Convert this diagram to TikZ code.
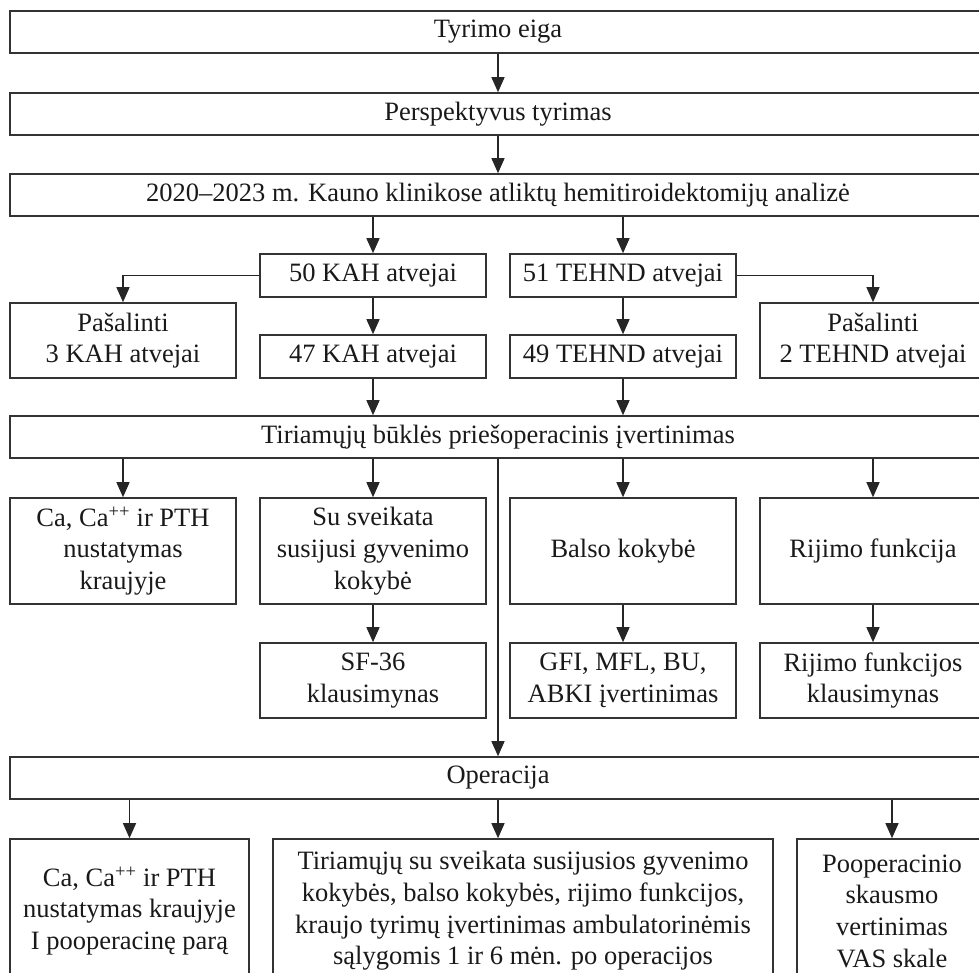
\documentclass[tikz,border=0pt]{standalone}
\usepackage{fontspec}
\setmainfont{Liberation Serif}
\usetikzlibrary{arrows.meta}
\begin{document}
\begin{tikzpicture}[x=1pt,y=-1pt,
  every node/.style={font=\fontsize{26.5}{31.7}\selectfont, text=black!90},
  box/.style={draw=black!80, line width=1.6pt, rectangle, inner sep=0pt, align=center},
  wide/.style={box, minimum width=976pt, minimum height=42pt},
  col/.style={box, minimum width=226pt},
  arr/.style={draw=black!85, line width=1.3pt, -{Triangle[length=15pt,width=13pt]}},
  ln/.style={draw=black!85, line width=1.3pt}]
\useasboundingbox (0,0) rectangle (979,972);
\clip (0,0) rectangle (979,972);
% full-width boxes
\node[wide] (tyr) at (498,32) {Tyrimo eiga};
\node[wide] (per) at (498,114) {Perspektyvus tyrimas};
\node[wide] (ana) at (498,195) {2020–2023 m. Kauno klinikose atliktų hemitiroidektomijų analizė};
% cases
\node[col, minimum height=43pt] (k50) at (373,275.5) {50 KAH atvejai};
\node[col, minimum height=43pt] (t51) at (623,275.5) {51 TEHND atvejai};
\node[col, minimum height=75pt] (p3) at (123,340.5) {Pašalinti\\3 KAH atvejai};
\node[col, minimum height=75pt] (p2) at (873,340.5) {Pašalinti\\2 TEHND atvejai};
\node[col, minimum height=43pt] (k47) at (373,356.5) {47 KAH atvejai};
\node[col, minimum height=43pt] (t49) at (623,356.5) {49 TEHND atvejai};
\node[wide] (tir) at (498,437) {Tiriamųjų būklės priešoperacinis įvertinimas};
% second row
\node[col, minimum height=106pt] (ca1) at (123,551) {Ca, Ca\textsuperscript{++} ir PTH\\nustatymas\\kraujyje};
\node[col, minimum height=106pt] (su) at (373,551) {Su sveikata\\susijusi gyvenimo\\kokybė};
\node[col, minimum height=106pt] (bal) at (623,551) {Balso kokybė};
\node[col, minimum height=106pt] (rij) at (873,551) {Rijimo funkcija};
% third row
\node[col, minimum height=75pt] (sf) at (373,680.5) {SF-36\\klausimynas};
\node[col, minimum height=75pt] (gfi) at (623,680.5) {GFI, MFL, BU,\\ABKI įvertinimas};
\node[col, minimum height=75pt] (rk) at (873,680.5) {Rijimo funkcijos\\klausimynas};
% operation
\node[wide] (op) at (498,778) {Operacija};
% bottom row
\node[box, minimum width=239pt, minimum height=144pt] (ca2) at (129.5,911) {Ca, Ca\textsuperscript{++} ir PTH\\nustatymas kraujyje\\I pooperacinę parą};
\node[box, minimum width=500pt, minimum height=144pt] (mid) at (523,911) {Tiriamųjų su sveikata susijusios gyvenimo\\kokybės, balso kokybės, rijimo funkcijos,\\kraujo tyrimų įvertinimas ambulatorinėmis\\sąlygomis 1 ir 6 mėn. po operacijos};
\node[box, minimum width=190pt, minimum height=144pt] (vas) at (892,911) {Pooperacinio\\skausmo\\vertinimas\\VAS skale};
% connectors
\draw[arr] (tyr) -- (per);
\draw[arr] (per) -- (ana);
\draw[arr] (ana.south -| k50.north) -- (k50.north);
\draw[arr] (ana.south -| t51.north) -- (t51.north);
\draw[arr] (k50.west) -| (p3.north);
\draw[arr] (t51.east) -| (p2.north);
\draw[arr] (k50) -- (k47);
\draw[arr] (t51) -- (t49);
\draw[arr] (k47.south) -- (k47.south |- tir.north);
\draw[arr] (t49.south) -- (t49.south |- tir.north);
\draw[arr] (tir.south -| ca1.north) -- (ca1.north);
\draw[arr] (tir.south -| su.north) -- (su.north);
\draw[arr] (tir.south -| bal.north) -- (bal.north);
\draw[arr] (tir.south -| rij.north) -- (rij.north);
\draw[arr] (tir) -- (op);
\draw[arr] (su) -- (sf);
\draw[arr] (bal) -- (gfi);
\draw[arr] (rij) -- (rk);
\draw[arr] (op.south -| ca2.north) -- (ca2.north);
\draw[arr] (op.south) -- (op.south |- mid.north);
\draw[arr] (op.south -| vas.north) -- (vas.north);
\end{tikzpicture}
\end{document}
